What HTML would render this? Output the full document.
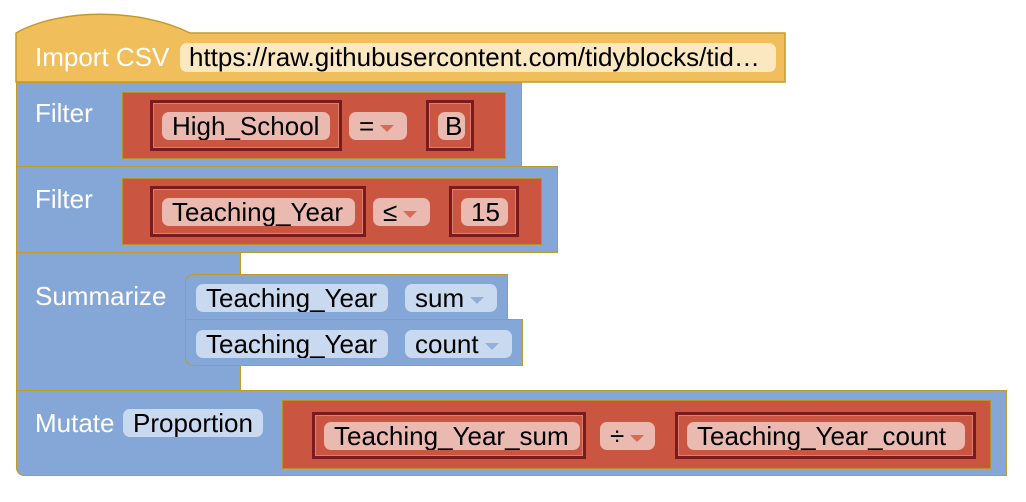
<!DOCTYPE html>
<html><head><style>
body{margin:0;width:1026px;height:502px;background:#fff;position:relative;overflow:hidden;font-family:"Liberation Sans",Arial,sans-serif}
div{position:absolute;box-sizing:border-box}
.blue{background:#85a7d7;border:1.5px solid #c29a2c}
.lab{color:#fff;font-size:26px;line-height:26px;white-space:nowrap}
.red{background:#ca5540;border:1.5px solid #b8902c}
.in{background:#ca5540;border:3px solid #7a1a1c;box-shadow:inset 0 0 0 1px #d98070}
.rp{background:#eab9b0;border-radius:7px;font-size:26px;color:#000;line-height:28px;padding-left:10px;white-space:nowrap;overflow:hidden}
.bp{background:#c9d9ef;border-radius:7px;font-size:26px;color:#000;line-height:28px;padding-left:10px;white-space:nowrap;overflow:hidden}
.ar{display:inline-block;width:0;height:0;border-left:7px solid transparent;border-right:7px solid transparent;border-top:7px solid #d96a55;margin-left:6px;vertical-align:middle}
.ab{border-top-color:#8fb0dc}
</style></head><body>
<svg style="position:absolute;left:0;top:0" width="1026" height="502">
<path d="M16,33 C60,8 140,8 190,33 L785,33 L785,82 L16,82 Z" fill="#f0be5a" stroke="#c29a2c" stroke-width="1.5"/>
</svg>
<div class="lab" style="left:35px;top:44px">Import CSV</div>
<div style="left:180px;top:43px;width:596px;height:29px;background:#fbe7c0;border-radius:7px;font-size:26px;line-height:29px;padding-left:9px;white-space:nowrap;overflow:hidden">https://raw.githubusercontent.com/tidyblocks/tid…</div>

<div class="blue" style="left:16px;top:82px;width:506px;height:85px"></div>
<div class="lab" style="left:35px;top:100px">Filter</div>
<div class="red" style="left:122px;top:92px;width:384px;height:67px"></div>
<div class="in" style="left:150px;top:100px;width:192px;height:51px"></div>
<div class="rp" style="left:162px;top:112px;width:168px;height:28px">High_School</div>
<div class="rp" style="left:349px;top:112px;width:58px;height:28px">=<span class="ar"></span></div>
<div class="in" style="left:426px;top:100px;width:48px;height:51px"></div>
<div class="rp" style="left:438px;top:112px;width:27px;height:28px;padding-left:7px">B</div>

<div class="blue" style="left:16px;top:166px;width:542px;height:87px"></div>
<div class="lab" style="left:35px;top:186px">Filter</div>
<div class="red" style="left:122px;top:178px;width:420px;height:67px"></div>
<div class="in" style="left:150px;top:186px;width:216px;height:51px"></div>
<div class="rp" style="left:162px;top:198px;width:193px;height:28px">Teaching_Year</div>
<div class="rp" style="left:373px;top:198px;width:57px;height:28px">≤<span class="ar"></span></div>
<div class="in" style="left:449px;top:186px;width:70px;height:51px"></div>
<div class="rp" style="left:461px;top:198px;width:47px;height:28px">15</div>

<div class="blue" style="left:16px;top:252px;width:225px;height:139px"></div>
<div class="lab" style="left:35px;top:283px">Summarize</div>
<div class="blue" style="left:185px;top:274px;width:323px;height:46px;border-radius:8px 0 0 0"></div>
<div class="bp" style="left:196px;top:284px;width:192px;height:28px">Teaching_Year</div>
<div class="bp" style="left:405px;top:284px;width:92px;height:28px">sum<span class="ar ab"></span></div>
<div class="blue" style="left:185px;top:319px;width:338px;height:47px;border-radius:0 0 0 8px"></div>
<div class="bp" style="left:196px;top:330px;width:192px;height:28px">Teaching_Year</div>
<div class="bp" style="left:405px;top:330px;width:107px;height:28px">count<span class="ar ab"></span></div>

<div class="blue" style="left:16px;top:390px;width:991px;height:86px;border-radius:0 0 0 8px"></div>
<div class="lab" style="left:35px;top:410px">Mutate</div>
<div class="bp" style="left:123px;top:409px;width:140px;height:28px">Proportion</div>
<div class="red" style="left:282px;top:400px;width:709px;height:69px"></div>
<div class="in" style="left:312px;top:412px;width:274px;height:47px"></div>
<div class="rp" style="left:324px;top:422px;width:256px;height:28px">Teaching_Year_sum</div>
<div class="rp" style="left:600px;top:422px;width:55px;height:28px">÷<span class="ar"></span></div>
<div class="in" style="left:675px;top:412px;width:301px;height:47px"></div>
<div class="rp" style="left:687px;top:422px;width:278px;height:28px">Teaching_Year_count</div>
</body></html>
